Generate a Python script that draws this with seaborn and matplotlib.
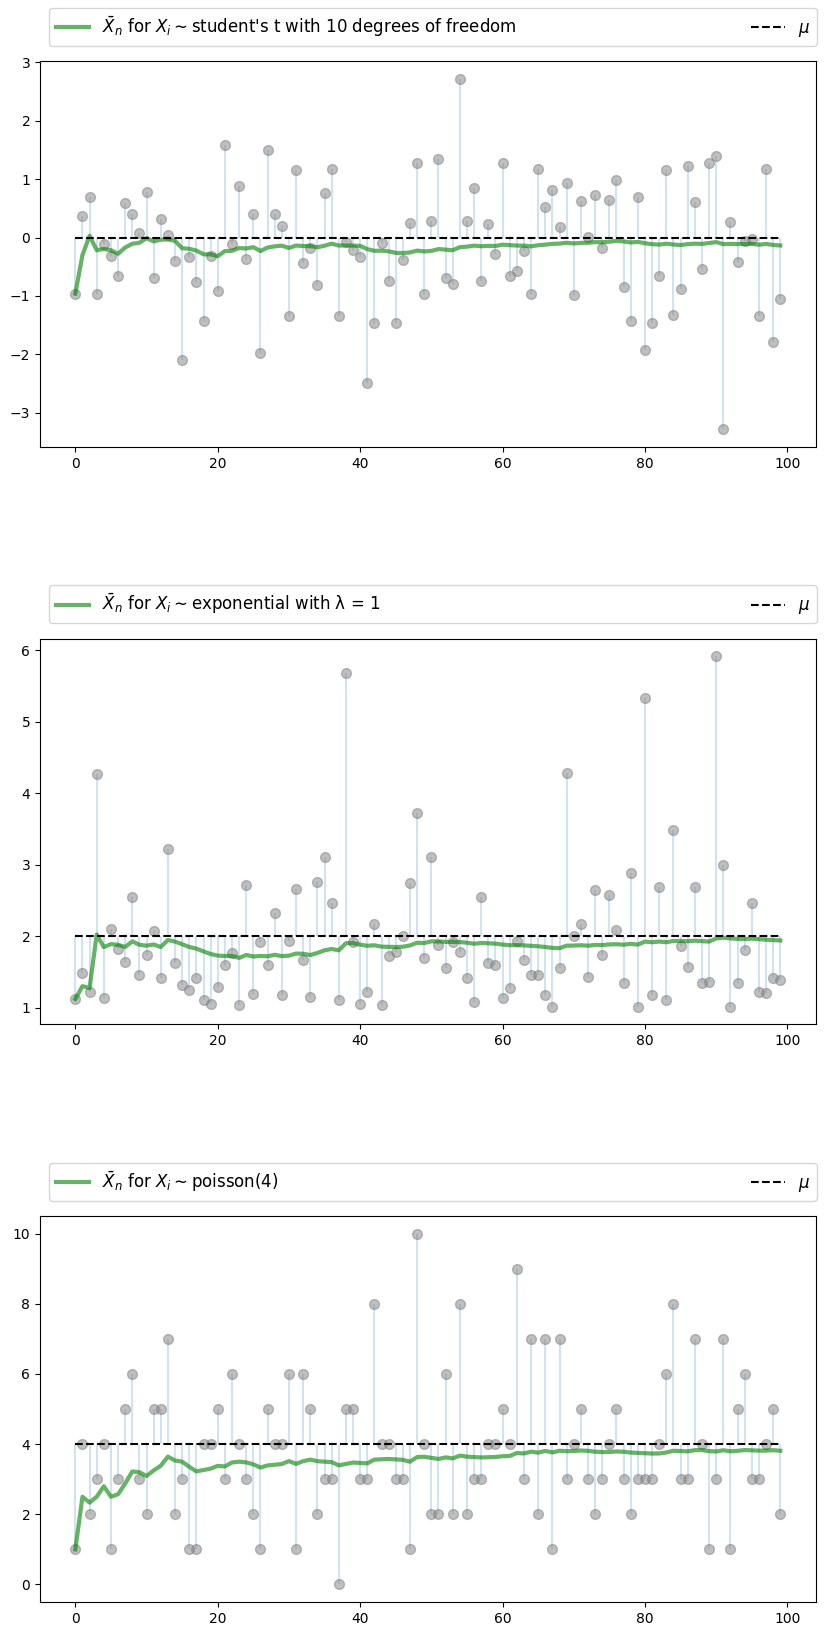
import numpy as np
import pandas as pd
import matplotlib
matplotlib.use("Agg")
import matplotlib.pyplot as plt
import seaborn as sns

# samples, index 0..99
t_values = [
    -0.96, 0.36, 0.69, -0.96, -0.11, -0.32, -0.65, 0.59, 0.40, 0.07,
    0.78, -0.69, 0.31, 0.04, -0.40, -2.09, -0.33, -0.76, -1.42, -0.32,
    -0.92, 1.59, -0.11, 0.89, -0.37, 0.41, -1.98, 1.49, 0.40, 0.19,
    -1.34, 1.15, -0.44, -0.18, -0.82, 0.76, 1.17, -1.34, -0.07, -0.22,
    -0.33, -2.48, -1.46, -0.09, -0.74, -1.47, -0.39, 0.25, 1.27, -0.96,
    0.28, 1.35, -0.69, -0.79, 2.72, 0.28, 0.85, -0.74, 0.23, -0.28,
    1.27, -0.65, -0.57, -0.23, -0.96, 1.17, 0.52, 0.81, 0.18, 0.94,
    -0.98, 0.62, 0.01, 0.72, -0.18, 0.64, 0.98, -0.84, -1.42, 0.70,
    -1.93, -1.47, -0.65, 1.15, -1.32, -0.88, 1.23, 0.60, -0.53, 1.28,
    1.40, -3.28, 0.26, -0.42, -0.06, -0.02, -1.34, 1.18, -1.78, -1.05,
]

exp_values = [
    1.12, 1.48, 1.22, 4.27, 1.14, 2.10, 1.82, 1.64, 2.55, 1.45,
    1.74, 2.07, 1.42, 3.22, 1.62, 1.32, 1.25, 1.41, 1.10, 1.05,
    1.29, 1.60, 1.76, 1.04, 2.72, 1.19, 1.92, 1.59, 2.33, 1.17,
    1.93, 2.66, 1.66, 1.15, 2.76, 3.11, 2.47, 1.11, 5.68, 1.92,
    1.05, 1.22, 2.17, 1.03, 1.72, 1.78, 2.00, 2.74, 3.72, 1.70,
    3.11, 1.88, 1.56, 1.92, 1.78, 1.41, 1.08, 2.55, 1.62, 1.60,
    1.14, 1.28, 1.93, 1.67, 1.46, 1.45, 1.18, 1.01, 1.55, 4.28,
    2.00, 2.17, 1.43, 2.64, 1.73, 2.57, 2.09, 1.35, 2.88, 1.01,
    5.33, 1.17, 2.69, 1.11, 3.49, 1.86, 1.57, 2.69, 1.35, 1.36,
    5.92, 2.99, 1.01, 1.34, 1.81, 2.47, 1.22, 1.21, 1.42, 1.39,
]

poisson_values = [
    1, 4, 2, 3, 4, 1, 3, 5, 6, 3,
    2, 5, 5, 7, 2, 3, 1, 1, 4, 4,
    5, 3, 6, 4, 3, 2, 1, 5, 4, 4,
    6, 1, 6, 5, 2, 3, 3, 0, 5, 5,
    3, 3, 8, 4, 4, 3, 3, 1, 10, 4,
    2, 2, 6, 2, 8, 2, 3, 3, 4, 4,
    5, 4, 9, 3, 7, 2, 7, 1, 7, 3,
    4, 5, 3, 2, 3, 4, 5, 3, 2, 3,
    3, 3, 4, 6, 8, 3, 3, 7, 4, 1,
    3, 7, 1, 5, 6, 3, 3, 4, 5, 2,
]

dist_names = ["student's t with 10 degrees of freedom", "exponential with λ = 1", "poisson(4)"]
mu_values = [0, 2, 4]
samples = [t_values, exp_values, poisson_values]

fig, axes = plt.subplots(3, 1, figsize=(8.25, 16.35), dpi=100)
fig.subplots_adjust(left=0.0486, right=0.9885, bottom=0.0202, top=0.9627, hspace=0.497)

for ax, name, mu, vals in zip(axes, dist_names, mu_values, samples):
    df = pd.DataFrame({"n": np.arange(len(vals)), "x": vals})
    # running sample mean
    df["mean"] = df["x"].expanding().mean()

    ax.vlines(df["n"], mu, df["x"], color="C0", alpha=0.2, lw=1.5)
    sns.scatterplot(data=df, x="n", y="x", ax=ax, color="gray", edgecolor="gray",
                    alpha=0.5, s=50, linewidth=1, zorder=3)
    sns.lineplot(data=df, x="n", y="mean", ax=ax, color="green", alpha=0.6, lw=3,
                 label=r"$\bar{X}_n$ for $X_i \sim$" + name, zorder=4)
    ax.hlines(mu, df["n"].min(), df["n"].max(), colors="k", linestyles="--", lw=1.5,
              label=r"$\mu$", zorder=5)

    ax.set_xlabel("")
    ax.set_ylabel("")
    ax.set_xticks([0, 20, 40, 60, 80, 100])
    ax.legend(bbox_to_anchor=(0.0116, 1.04, 0.99, 0.1), loc="lower left",
              mode="expand", ncol=2, borderaxespad=0, fontsize=12)

fig.savefig("out.png", dpi=100)
